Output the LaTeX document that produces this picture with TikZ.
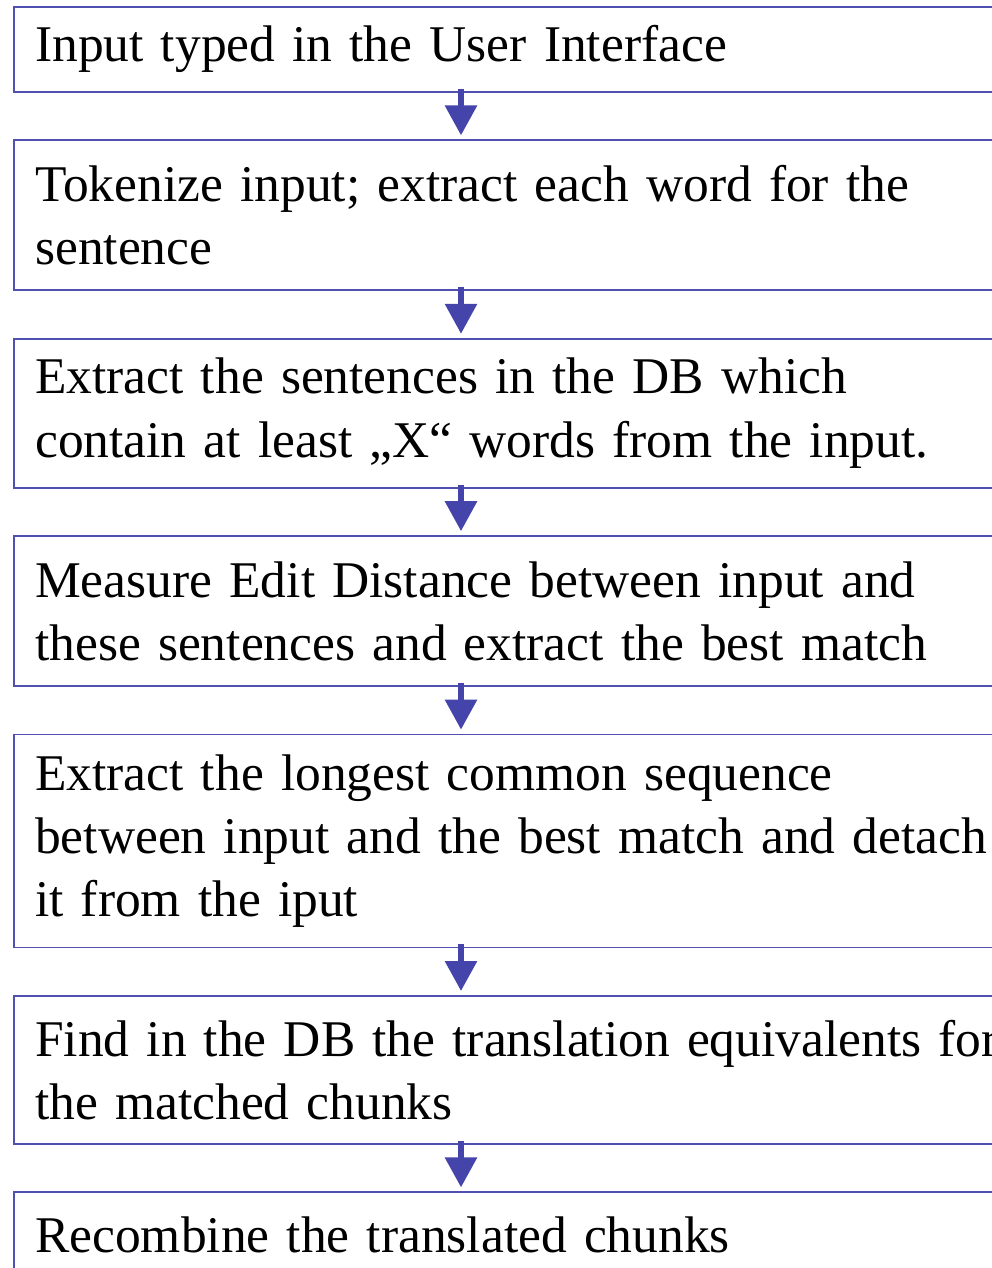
\documentclass[tikz,border=0pt]{standalone}
\usepackage{fontspec}
\setmainfont{Liberation Serif}
\usetikzlibrary{positioning, arrows.meta}
\definecolor{flowline}{RGB}{80,80,176}
\definecolor{flowarrow}{RGB}{68,68,170}
\tikzstyle{stepbox} = [rectangle, draw=flowline, line width=1.3pt, text width=825pt, inner xsep=16pt, inner ysep=0pt, align=left, font=\fontsize{38.6}{47.5}\selectfont]
\tikzstyle{arrow} = [line width=4.5pt, draw=flowarrow, fill=flowarrow, -{Triangle[length=22.5pt, width=23.25pt]}]

\begin{document}
\begin{tikzpicture}[x=0.75pt, y=-0.75pt, node distance=35pt]
    \useasboundingbox (0,0) rectangle (992,1268);

    % Steps
    \node (input) [stepbox, anchor=north west, minimum height=63.75pt] at (13,6) {Input typed in the User Interface};
    \node (tokenize) [stepbox, below=of input, minimum height=112.5pt] {Tokenize input; extract each word for the\\sentence};
    \node (extract) [stepbox, below=of tokenize, minimum height=111.75pt] {Extract the sentences in the DB which\\contain at least „X“ words from the input.};
    \node (measure) [stepbox, below=of extract, minimum height=112.5pt] {Measure Edit Distance between input and\\these sentences and extract the best match};
    \node (longest) [stepbox, below=of measure, minimum height=159.75pt] {Extract the longest common sequence\\between input and the best match and detach\\it from the iput};
    \node (find) [stepbox, below=of longest, minimum height=111pt] {Find in the DB the translation equivalents for\\the matched chunks};
    \node (recombine) [stepbox, below=of find, minimum height=63.75pt] {Recombine the translated chunks};

    % Arrows
    \draw [arrow] ([xshift=336pt, yshift=3pt]input.south west) -- ([xshift=336pt, yshift=3pt]tokenize.north west);
    \draw [arrow] ([xshift=336pt, yshift=3pt]tokenize.south west) -- ([xshift=336pt, yshift=3pt]extract.north west);
    \draw [arrow] ([xshift=336pt, yshift=3pt]extract.south west) -- ([xshift=336pt, yshift=3pt]measure.north west);
    \draw [arrow] ([xshift=336pt, yshift=3pt]measure.south west) -- ([xshift=336pt, yshift=3pt]longest.north west);
    \draw [arrow] ([xshift=336pt, yshift=3pt]longest.south west) -- ([xshift=336pt, yshift=3pt]find.north west);
    \draw [arrow] ([xshift=336pt, yshift=3pt]find.south west) -- ([xshift=336pt, yshift=3pt]recombine.north west);
\end{tikzpicture}
\end{document}
